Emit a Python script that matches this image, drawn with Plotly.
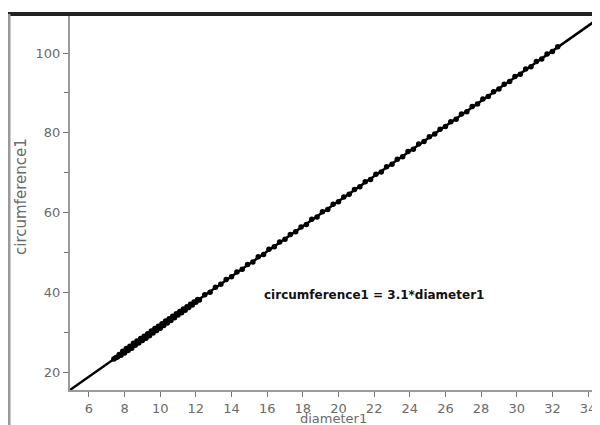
import plotly.graph_objects as go

# Data
diameter1 = [7.4, 7.5, 7.6, 7.7, 7.8, 7.9, 8.0, 8.1, 8.2, 8.3, 8.4, 8.5, 8.6, 8.7, 8.8, 8.9,
             9.0, 9.1, 9.2, 9.3, 9.4, 9.5, 9.6, 9.7, 9.8, 9.9, 10.0, 10.1, 10.2, 10.3, 10.4,
             10.5, 10.6, 10.7, 10.8, 10.9, 11.0, 11.1, 11.2, 11.3, 11.4, 11.5, 11.6, 11.7,
             11.8, 11.9, 12.0, 12.1, 12.2,
             12.5, 12.8, 13.1, 13.4, 13.7, 14.0, 14.3, 14.6, 14.9, 15.2, 15.5, 15.8, 16.1,
             16.4, 16.7, 17.0, 17.3, 17.6, 17.9, 18.2, 18.5, 18.8, 19.1, 19.4, 19.7, 20.0,
             20.3, 20.6, 20.9, 21.2, 21.5, 21.8, 22.1, 22.4, 22.7, 23.0, 23.3, 23.6, 23.9,
             24.2, 24.5, 24.8, 25.1, 25.4, 25.7, 26.0, 26.3, 26.6, 26.9, 27.2, 27.5, 27.8,
             28.1, 28.4, 28.7, 29.0, 29.3, 29.6, 29.9, 30.2, 30.5, 30.8, 31.1, 31.4, 31.7,
             32.0, 32.3]
circumference1 = [23.3, 23.6, 23.8, 24.4, 24.2, 25.2, 24.8, 25.9, 25.4, 26.5, 26.0, 27.2, 26.7,
                  27.8, 27.3, 28.4, 27.9, 29.0, 28.5, 29.6, 29.1, 30.3, 29.8, 30.9, 30.4, 31.5,
                  31.0, 32.1, 31.7, 32.8, 32.3, 33.4, 32.9, 34.0, 33.6, 34.6, 34.3, 35.2, 34.9,
                  35.8, 35.5, 36.4, 36.2, 37.0, 36.8, 37.6, 37.5, 38.2, 38.1,
                  39.4, 40.0, 41.3, 42.0, 43.2, 43.9, 45.1, 45.8, 47.0, 47.6, 48.9, 49.5, 50.8,
                  51.4, 52.6, 53.3, 54.5, 55.2, 56.4, 57.0, 58.3, 58.9, 60.2, 60.8, 62.1, 62.7,
                  63.9, 64.6, 65.8, 66.5, 67.7, 68.3, 69.6, 70.2, 71.5, 72.1, 73.4, 74.0, 75.3,
                  75.9, 77.2, 77.8, 79.0, 79.7, 80.9, 81.6, 82.8, 83.4, 84.7, 85.3, 86.6, 87.2,
                  88.5, 89.1, 90.3, 91.0, 92.2, 92.9, 94.1, 94.7, 96.0, 96.6, 97.9, 98.5, 99.8,
                  100.4, 101.6]
slope = 3.1416          # shown rounded as 3.1
slope_label = "3.1"
x_range = [4.94, 34.67]
y_range = [15.5, 109.3]
x_ticks = [6, 8, 10, 12, 14, 16, 18, 20, 22, 24, 26, 28, 30, 32, 34]
y_ticks = [20, 40, 60, 80, 100]
y_minor = [30, 50, 70, 90]

line_x = [x_range[0], x_range[1] + 1]
line_y = [slope * v for v in line_x]

fig = go.Figure()
fig.add_trace(go.Scatter(x=line_x, y=line_y, mode="lines",
                         line=dict(color="black", width=2.5), hoverinfo="skip"))
fig.add_trace(go.Scatter(x=diameter1, y=circumference1, mode="markers",
                         marker=dict(color="black", size=5.5, line=dict(width=0))))

# the page body has an 8px margin, so the figure starts at (8, 8) in the window
W, H = 592, 417
ml, mr, mt, mb = 62, 0, 8, 35
pw, ph = W - ml - mr, H - mt - mb


def px_x(x):  # window pixel -> paper x
    return (x - 8 - ml) / pw


def px_y(y):  # window pixel -> paper y
    return (H - mb - (y - 8)) / ph


tickfont = dict(family="DejaVu Sans", size=13, color="#6a6a6a")
fig.update_layout(
    width=W, height=H, showlegend=False,
    margin=dict(l=ml, r=mr, t=mt, b=mb, pad=0, autoexpand=False),
    paper_bgcolor="white", plot_bgcolor="white",
    xaxis=dict(range=x_range, tickvals=x_ticks, ticks="outside", ticklen=5, tickwidth=1,
               tickcolor="#777", showline=True, linecolor="#9a9a9a", linewidth=2,
               showgrid=False, zeroline=False, tickfont=tickfont, automargin=False),
    yaxis=dict(range=y_range, tickvals=y_ticks, ticks="outside", ticklen=5, tickwidth=1,
               tickcolor="#777", showline=True, linecolor="#9a9a9a", linewidth=2,
               showgrid=False, zeroline=False, tickfont=tickfont, automargin=False,
               minor=dict(tickvals=y_minor, ticks="outside", ticklen=4,
                          tickcolor="#777", showgrid=False)),
    annotations=[
        dict(text="<b>circumference1 = " + slope_label + "*diameter1</b>", x=21.97, y=39.25,
             xref="x", yref="y", showarrow=False,
             font=dict(family="DejaVu Sans", size=12, color="#111"),
             xanchor="center", yanchor="middle"),
        dict(text="circumference1", x=px_x(21), y=px_y(197), xref="paper",
             yref="paper", showarrow=False, textangle=-90,
             font=dict(family="DejaVu Sans", size=15, color="#6a6a6a"),
             xanchor="center", yanchor="middle"),
        dict(text="diameter1", x=px_x(333), y=px_y(418), xref="paper",
             yref="paper", showarrow=False,
             font=dict(family="DejaVu Sans", size=13, color="#6a6a6a"),
             xanchor="center", yanchor="middle"),
    ],
    shapes=[
        dict(type="line", xref="paper", yref="paper", x0=px_x(8), x1=1.0,
             y0=px_y(14), y1=px_y(14), line=dict(color="#222", width=4)),
        dict(type="line", xref="paper", yref="paper", x0=px_x(9), x1=px_x(9),
             y0=px_y(14), y1=px_y(430), line=dict(color="#9a9a9a", width=3)),
    ],
)
fig.write_html("out.html")
